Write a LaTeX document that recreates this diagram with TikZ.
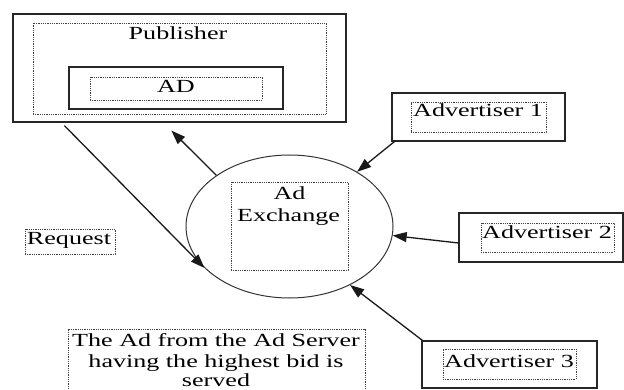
\documentclass[tikz,border=0pt]{standalone}
\usepackage{fontspec}
\setmainfont[FakeStretch=1.41]{Liberation Serif}
\usetikzlibrary{arrows.meta,shapes.geometric}

\tikzset{
  solidbox/.style={draw=black!85, line width=1.2pt, rectangle, inner sep=0pt},
  dotbox/.style={draw=black!75, line width=0.8pt, dash pattern=on 1pt off 0.8pt, rectangle, inner sep=0pt},
  lbl/.style={inner sep=0pt, font=\fontsize{18.5}{20.5}\selectfont, anchor=base},
  flow/.style={draw=black!90, line width=1.3pt, -{Triangle[length=14pt,width=10pt]}},
}

\begin{document}
\begin{tikzpicture}[x=1pt,y=-1pt]
  \useasboundingbox (0,0) rectangle (624,390);

  % Publisher frame with its ad slot
  \node[solidbox, minimum width=333pt, minimum height=108pt] (pub) at (179.5,68) {};
  \node[dotbox, minimum width=293pt, minimum height=91pt] (pubin) at (179.5,68.5) {};
  \node[lbl] (publbl) at (178,40) {Publisher};
  \node[solidbox, minimum width=214pt, minimum height=42pt] (adbox) at (176,88) {};
  \node[dotbox, minimum width=172pt, minimum height=23pt] (adin) at (176,88.5) {};
  \node[lbl] (adlbl) at (176,93) {AD};

  % Ad exchange
  \node[ellipse, draw=black!80, line width=1pt, minimum width=207pt, minimum height=143pt, inner sep=0pt] (ex) at (289.5,226.5) {};
  \node[dotbox, minimum width=117pt, minimum height=88pt] (exin) at (289.5,226) {};
  \node[lbl] (exlbl1) at (289.5,200) {Ad};
  \node[lbl] (exlbl2) at (288.5,222) {Exchange};

  % Advertisers
  \node[solidbox, minimum width=173pt, minimum height=48pt] (a1) at (478.5,117) {};
  \node[dotbox, minimum width=135pt, minimum height=30pt] (a1in) at (478.5,117) {};
  \node[lbl] (a1lbl) at (478,117) {Advertiser 1};

  \node[solidbox, minimum width=164pt, minimum height=49pt] (a2) at (541,237.5) {};
  \node[dotbox, minimum width=133pt, minimum height=29pt] (a2in) at (547.5,237.5) {};
  \node[lbl] (a2lbl) at (547,239) {Advertiser 2};

  \node[solidbox, minimum width=175pt, minimum height=47pt] (a3) at (509.5,364.5) {};
  \node[dotbox, minimum width=133pt, minimum height=30pt] (a3in) at (509.5,364) {};
  \node[lbl] (a3lbl) at (509,367) {Advertiser 3};

  % Side notes
  \node[dotbox, minimum width=90pt, minimum height=25pt] (req) at (70,241.5) {};
  \node[lbl] (reqlbl) at (69,245) {Request};

  \node[dotbox, minimum width=297pt, minimum height=67pt] (note) at (216.5,362.5) {};
  \node[lbl] (note1) at (216,346.5) {The Ad from the Ad Server};
  \node[lbl] (note2) at (216,367) {having the highest bid is};
  \node[lbl] (note3) at (216,386) {served};

  % Connectors
  \draw[flow] ([shift={(52pt,-3pt)}]pub.south west) -- (ex.206.7);
  \draw[flow] (ex.145.3) -- ([shift={(159pt,-8pt)}]pub.south west);
  \draw[flow] ([xshift=3pt]a1.south west) -- (ex.39.4);
  \draw[flow] ([yshift=-5.5pt]a2.west) -- (ex.-5.6);
  \draw[flow] ([xshift=1pt]a3.north west) -- (ex.-44.1);
\end{tikzpicture}
\end{document}
